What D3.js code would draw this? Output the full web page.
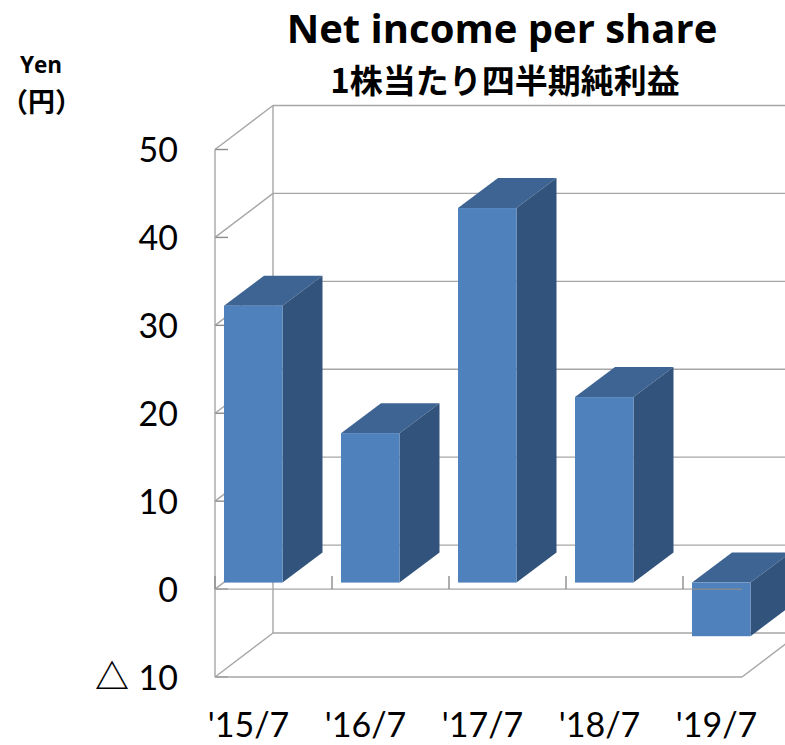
<!DOCTYPE html>
<html><head><meta charset="utf-8">
<script src="https://cdn.jsdelivr.net/npm/d3@7"></script>
<style>html,body{margin:0;padding:0;background:#fff}svg{display:block}</style>
</head><body><div id="chart"></div>
<script>
const categories = ["'15/7","'16/7","'17/7","'18/7","'19/7"];
const values = [31.5,17.0,42.6,21.1,-6.1];
const yTicks = [-10,0,10,20,30,40,50];
const yTickLabels = ["10","0","10","20","30","40","50"];
const negativeMark = "△";
const titleText = "Net income per share";
const subtitleText = "1株当たり四半期純利益";
const unitLines = ["Yen","（円）"];

const W=785,H=745;
const svg=d3.select("#chart").append("svg").attr("width",W).attr("height",H);
const y=d3.scaleLinear().domain([-10,50]).range([677,149.5]);
const x=d3.scaleBand().domain(categories).range([215,800]).paddingInner(0).paddingOuter(0);
const wallDx=58, wallDy=-44;
const barDx=40, barDy=-30, barInDx=9, barInDy=-6.5, barW=58.5;
const grid="#a6a6a6";
const g=svg.append("g");
const line=(a,b,c,d,col=grid,w=1.4)=>g.append("line").attr("x1",a).attr("y1",b).attr("x2",c).attr("y2",d).attr("stroke",col).attr("stroke-width",w);

yTicks.forEach(t=>{
  const yy=y(t);
  line(215,yy,215+wallDx,yy+wallDy);
  line(215+wallDx,yy+wallDy,W,yy+wallDy);
  line(215,yy,228,yy,"#8c8c8c");
});
line(215,y(50),215,y(-10));
line(215+wallDx,y(50)+wallDy,215+wallDx,y(-10)+wallDy);
line(215,y(-10),742,y(-10));
line(742,y(-10),742+wallDx,y(-10)+wallDy);
line(215,y(0),742,y(0));
const tickXs=[215,...categories.slice(1).map(c=>x(c))];
tickXs.forEach(tx=>line(tx,y(0),tx,y(0)-13,"#8c8c8c"));

const y0=y(0)+barInDy;
const k=(y(0)-y(10))/10;
const bars=g.selectAll("g.bar").data(categories.map((c,i)=>({c,v:values[i]}))).join("g").attr("class","bar");
bars.each(function(d){
  const s=d3.select(this);
  const l=x(d.c)+barInDx, r=l+barW;
  const top=d.v>=0?y0-d.v*k:y0, bot=d.v>=0?y0:y0-d.v*k;
  s.append("polygon").attr("points",[[l,top],[l+barDx,top+barDy],[r+barDx,top+barDy],[r,top]].join(" ")).attr("fill","#3e6493");
  s.append("polygon").attr("points",[[r,top],[r+barDx,top+barDy],[r+barDx,bot+barDy],[r,bot]].join(" ")).attr("fill","#32547c");
  s.append("rect").attr("x",l).attr("y",top).attr("width",barW).attr("height",bot-top).attr("fill","#4f81bd");
});
const neg=categories[values.findIndex(v=>v<0)];
line(x(neg)+barInDx,y(0),742,y(0),"#8c8c8c");

const yAxis=d3.axisLeft(y).tickValues(yTicks).tickSize(0).tickPadding(0)
  .tickFormat(t=>yTickLabels[yTicks.indexOf(t)]);
const ya=svg.append("g").attr("transform","translate(178,0)").call(yAxis);
ya.select(".domain").remove();
ya.selectAll("text").attr("font-family","Lato, sans-serif").attr("font-size",34).attr("fill","#000").attr("dy","0.36em");
svg.append("text").attr("x",112).attr("y",y(-10)+12).attr("text-anchor","middle").attr("font-family","'Noto Sans CJK JP', sans-serif").attr("font-weight",700).attr("font-size",34).text(negativeMark);

const xAxis=d3.axisBottom(x).tickSize(0).tickPadding(0);
const xa=svg.append("g").attr("transform","translate(-25,725)").call(xAxis);
xa.select(".domain").remove();
xa.selectAll("text").attr("font-family","Lato, sans-serif").attr("font-size",34).attr("fill","#000").attr("dy","0.36em");

svg.append("text").attr("x",502).attr("y",43).attr("text-anchor","middle").attr("font-family","'Open Sans', sans-serif").attr("font-weight",700).attr("font-size",40).text(titleText);
svg.append("text").attr("x",505).attr("y",93).attr("text-anchor","middle").attr("font-family","'Noto Sans CJK JP', sans-serif").attr("font-weight",700).attr("font-size",33).text(subtitleText);
svg.append("text").attr("x",41).attr("y",73).attr("text-anchor","middle").attr("font-family","'Open Sans', sans-serif").attr("font-weight",700).attr("font-size",22.5).text(unitLines[0]);
svg.append("text").attr("x",41.5).attr("y",112).attr("text-anchor","middle").attr("font-family","'Noto Sans CJK JP', sans-serif").attr("font-weight",700).attr("font-size",27).text(unitLines[1]);
</script></body></html>
